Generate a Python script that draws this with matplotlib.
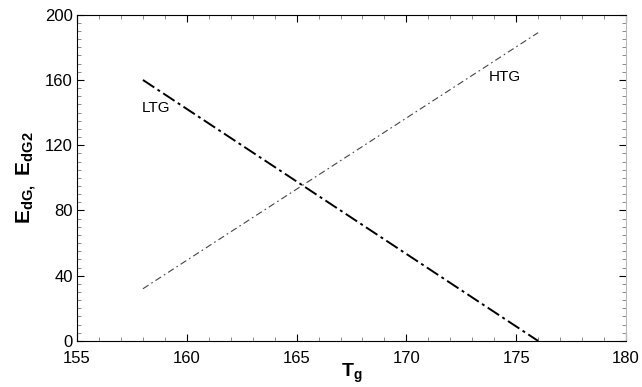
import numpy as np
import matplotlib.pyplot as plt
from matplotlib.ticker import MultipleLocator

plt.rcParams['font.family'] = ['Liberation Sans', 'DejaVu Sans']
plt.rcParams['mathtext.fontset'] = 'custom'
plt.rcParams['mathtext.bf'] = 'Liberation Sans:bold'
plt.rcParams['mathtext.rm'] = 'Liberation Sans'

# end points of the two straight lines
tg = [158, 176]
ltg = [160, 0]
htg = [32, 189]

fig = plt.figure(figsize=(6.42, 3.87), dpi=100)
ax = fig.add_axes([0.12, 0.119, 0.855, 0.843])

ax.plot(tg, ltg, color='black', lw=1.4, dashes=[7, 2, 1.5, 2])
ax.plot(tg, htg, color='#444444', lw=0.8, dashes=[6, 3, 1.5, 3])

ax.text(158.6, 143, 'LTG', fontsize=11, ha='center', va='center')
ax.text(174.5, 162, 'HTG', fontsize=11, ha='center', va='center')

ax.set_xlim(155, 180)
ax.set_ylim(0, 200)
ax.xaxis.set_major_locator(MultipleLocator(5))
ax.xaxis.set_minor_locator(MultipleLocator(1))
ax.yaxis.set_major_locator(MultipleLocator(40))
ax.yaxis.set_minor_locator(MultipleLocator(5))
ax.tick_params(which='both', direction='in', top=True, right=True, labelsize=12)
ax.tick_params(which='major', length=5)
ax.tick_params(which='minor', length=3, color='#777777')
ax.tick_params(axis='x', which='major', pad=7)
ax.tick_params(axis='y', which='major', pad=3)
ax.spines['right'].set_color('#bbbbbb')

ax.set_xlabel(r'$\mathbf{T_g}$', fontsize=14, labelpad=-3)
ax.set_ylabel(r'$\mathbf{E_{dG,}\ E_{dG2}}$', fontsize=15, labelpad=4)

fig.savefig('out.png', dpi=100)
